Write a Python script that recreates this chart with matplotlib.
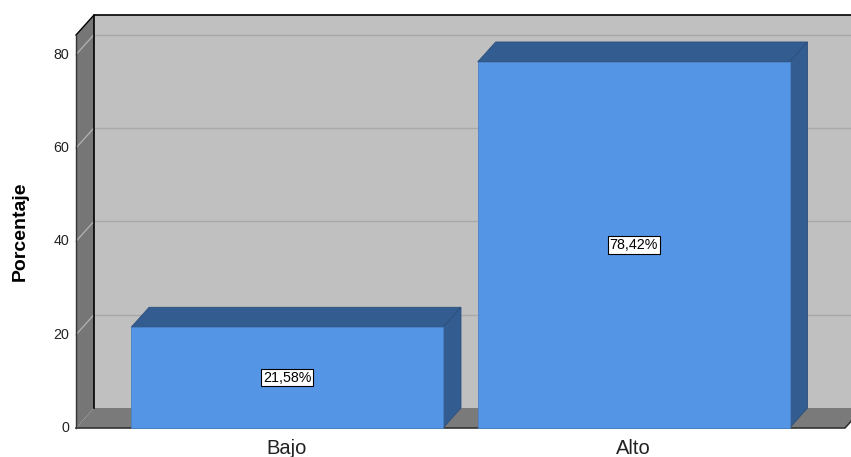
import matplotlib
matplotlib.use("Agg")
import matplotlib.pyplot as plt
from matplotlib.patches import Polygon

# Data
categories = ["Bajo", "Alto"]
percentages = [21.58, 78.42]
value_labels = ["21,58%", "78,42%"]
y_ticks = [0, 20, 40, 60, 80]

# Colours
WALL = "#c0c0c0"
SIDE_WALL = "#767676"
FLOOR = "#7a7a7a"
GRID = "#a9a9a9"
BAR_FRONT = "#5595e5"
BAR_DARK = "#335d90"

plt.rcParams["font.family"] = ["Liberation Sans", "DejaVu Sans"]

fig = plt.figure(figsize=(8.51, 4.57), dpi=100)
W, H = 851, 457
# front plane of the chart
ax = fig.add_axes([76 / W, (H - 428) / H, (845 - 76) / W, (428 - 35) / H])
ax.set_xlim(-0.609, 1.610)
ax.set_ylim(0, 84.2)
ax.axis("off")

# depth offset in pixels, converted to data units
depth_px = (18, 20)
ddx = (ax.get_xlim()[1] - ax.get_xlim()[0]) * depth_px[0] / (845 - 76)
ddy = (ax.get_ylim()[1] - ax.get_ylim()[0]) * depth_px[1] / (428 - 35)

x0, x1 = ax.get_xlim()
y0, y1 = ax.get_ylim()


def poly(pts, fc, ec="none", lw=0.0, z=1):
    ax.add_patch(Polygon(pts, closed=True, facecolor=fc, edgecolor=ec,
                         linewidth=lw, clip_on=False, zorder=z))


# back wall
poly([(x0 + ddx, y0 + ddy), (x1 + ddx + 1, y0 + ddy),
      (x1 + ddx + 1, y1 + ddy), (x0 + ddx, y1 + ddy)], WALL, z=0)
# left side wall
poly([(x0, y0), (x0 + ddx, y0 + ddy), (x0 + ddx, y1 + ddy), (x0, y1)],
     SIDE_WALL, z=1)
# floor
poly([(x0, y0), (x1, y0), (x1 + ddx, y0 + ddy), (x0 + ddx, y0 + ddy)],
     FLOOR, z=1)

# grid lines on back wall and side wall
for t in y_ticks[1:]:
    ax.plot([x0 + ddx, x1 + ddx + 1], [t + ddy, t + ddy], color=GRID,
            lw=1.0, zorder=0.5, clip_on=False)
    ax.plot([x0, x0 + ddx], [t, t + ddy], color="#b4b4b4", lw=0.9,
            zorder=1.5, clip_on=False)

# outline lines
ax.plot([x0 + ddx, x0 + ddx, x1 + ddx + 1], [y0 + ddy, y1 + ddy, y1 + ddy],
        color="black", lw=1.2, zorder=2, clip_on=False)
ax.plot([x0, x0 + ddx], [y1, y1 + ddy], color="black", lw=1.0, zorder=2,
        clip_on=False)
ax.plot([x0, x0], [y0, y1], color="#333333", lw=1.0, zorder=2, clip_on=False)
ax.plot([x0, x1, x1 + ddx], [y0, y0, y0 + ddy], color="#333333", lw=1.2,
        zorder=2, clip_on=False)

# bars
bw = 0.9
for i, v in enumerate(percentages):
    l, r = i - bw / 2, i + bw / 2
    # top face
    poly([(l, v), (r, v), (r + ddx, v + ddy), (l + ddx, v + ddy)],
         BAR_DARK, ec="#2b4f7c", lw=0.6, z=3)
    # right side face
    poly([(r, 0), (r + ddx, ddy), (r + ddx, v + ddy), (r, v)],
         BAR_DARK, ec="#2b4f7c", lw=0.6, z=3)
    # front face
    poly([(l, 0), (r, 0), (r, v), (l, v)], BAR_FRONT, ec="#4a82c8",
         lw=0.6, z=4)
    ax.text(i, v / 2, value_labels[i], ha="center", va="center",
            fontsize=10.3, zorder=5,
            bbox=dict(boxstyle="square,pad=0.12", fc="white", ec="black",
                      lw=0.8))
    ax.text(i, -2.4, categories[i], ha="center", va="top", fontsize=14.5,
            color="#222222")

# y tick labels
for t in y_ticks:
    ax.text(x0 - 0.02, t, str(t), ha="right", va="center", fontsize=10.3,
            color="#222222")

fig.text(20 / W, 1 - 231 / H, "Porcentaje", rotation=90, ha="center",
         va="center", fontsize=14, fontweight="bold")

fig.savefig("out.png", dpi=100)
